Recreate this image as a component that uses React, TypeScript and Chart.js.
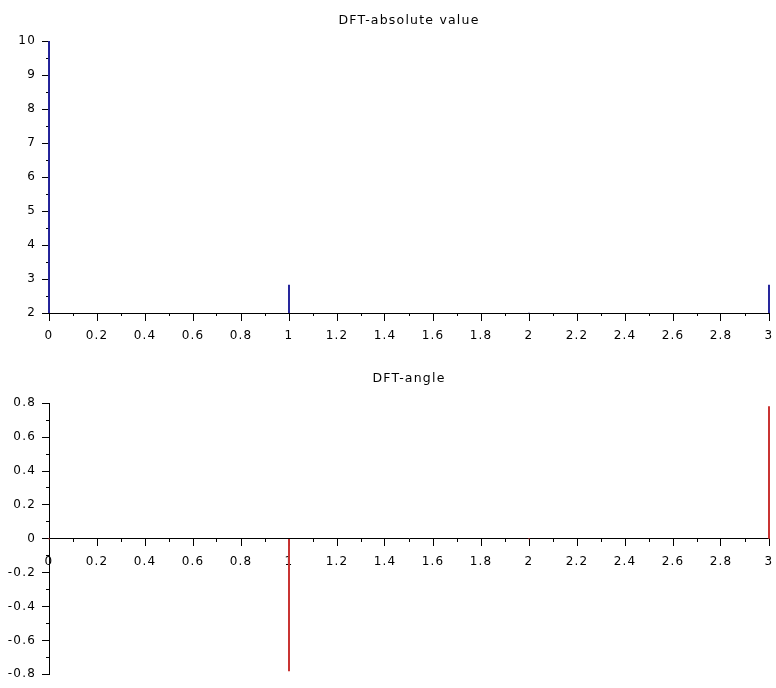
import React, { useEffect, useRef } from "react";
import { Chart, registerables } from "chart.js";

Chart.register(...registerables);

const bins = [0, 1, 2, 3];
const absValues = [10, 2.82, 2, 2.82];
const angleValues = [0, -0.78, 0, 0.78];

const absTitle = "DFT-absolute value";
const angleTitle = "DFT-angle";

const xMajorTicks = [0, 0.2, 0.4, 0.6, 0.8, 1, 1.2, 1.4, 1.6, 1.8, 2, 2.2, 2.4, 2.6, 2.8, 3];
const xMinorTicks = [0.1, 0.3, 0.5, 0.7, 0.9, 1.1, 1.3, 1.5, 1.7, 1.9, 2.1, 2.3, 2.5, 2.7, 2.9];
const absMajorTicks = [2, 3, 4, 5, 6, 7, 8, 9, 10];
const absMinorTicks = [2.5, 3.5, 4.5, 5.5, 6.5, 7.5, 8.5, 9.5];
const angleMajorTicks = [-0.8, -0.6, -0.4, -0.2, 0, 0.2, 0.4, 0.6, 0.8];
const angleMinorTicks = [-0.7, -0.5, -0.3, -0.1, 0.1, 0.3, 0.5, 0.7];

const FONT = "'DejaVu Sans', 'Liberation Sans', sans-serif";

const spacingPlugin = {
  id: "letterSpacing",
  beforeDraw(chart: any) {
    chart.ctx.letterSpacing = "1.2px";
  },
};

const fmt = (v: number) => String(Math.round(v * 10) / 10);

function makeConfig(opts: {
  title: string;
  values: number[];
  color: string;
  yMin: number;
  yMax: number;
  yMajor: number[];
  yMinor: number[];
  xAt: number;
  titlePad: { top: number; bottom: number };
  layoutPad: { left: number; right: number; top: number; bottom: number };
}): any {
  const tickFont = { family: FONT, size: 12 };
  const setTicks = (arr: number[]) => (scale: any) => {
    scale.ticks = arr.map((v) => ({ value: v }));
  };
  const noPad = (scale: any) => {
    scale.paddingLeft = 0;
    scale.paddingRight = 0;
    scale.paddingTop = 0;
    scale.paddingBottom = 0;
  };
  const grid = (len: number) => ({
    display: true,
    drawOnChartArea: false,
    drawTicks: true,
    tickLength: len,
    offset: false,
    color: "#000",
    tickColor: "#000",
    lineWidth: 1,
  });
  return {
    type: "bar",
    data: {
      datasets: [
        {
          data: bins.map((b, i) => ({ x: b, y: opts.values[i] })),
          backgroundColor: opts.color,
          borderWidth: 0,
          barThickness: 1.3,
          xAxisID: "x",
          yAxisID: "y",
          clip: { left: 3, right: 3, top: 0, bottom: 0 },
        },
      ],
    },
    options: {
      responsive: false,
      animation: false,
      devicePixelRatio: 1,
      layout: { padding: opts.layoutPad },
      plugins: {
        legend: { display: false },
        tooltip: { enabled: false },
        title: {
          display: true,
          text: opts.title,
          fullSize: false,
          color: "#000",
          font: { family: FONT, size: 12.5, weight: "normal" },
          padding: opts.titlePad,
        },
      },
      scales: {
        x: {
          type: "linear",
          min: 0,
          max: 3,
          offset: false,
          position: { y: opts.xAt },
          afterBuildTicks: setTicks(xMajorTicks),
          afterFit: noPad,
          ticks: { color: "#000", font: tickFont, padding: 9, maxRotation: 0, autoSkip: false, callback: (v: number) => fmt(v) },
          grid: grid(7),
          border: { display: true, color: "#000", width: 1 },
        },
        xm: {
          type: "linear",
          min: 0,
          max: 3,
          offset: false,
          position: { y: opts.xAt },
          afterBuildTicks: setTicks(xMinorTicks),
          afterFit: noPad,
          ticks: { display: false, autoSkip: false },
          grid: grid(3),
          border: { display: false },
        },
        y: {
          type: "linear",
          min: opts.yMin,
          max: opts.yMax,
          position: "left",
          afterBuildTicks: setTicks(opts.yMajor),
          afterFit: (scale: any) => {
            scale.width = 49;
            noPad(scale);
          },
          ticks: { color: "#000", font: tickFont, padding: 6, autoSkip: false, callback: (v: number) => fmt(v) },
          grid: grid(7),
          border: { display: true, color: "#000", width: 1 },
        },
        ym: {
          type: "linear",
          min: opts.yMin,
          max: opts.yMax,
          position: { x: 0 },
          afterBuildTicks: setTicks(opts.yMinor),
          afterFit: noPad,
          ticks: { display: false, autoSkip: false },
          grid: grid(3),
          border: { display: false },
        },
      },
    },
    plugins: [spacingPlugin],
  };
}

function StemChart(props: { config: any; top: number }) {
  const ref = useRef<HTMLCanvasElement | null>(null);
  useEffect(() => {
    if (!ref.current) return;
    const chart = new Chart(ref.current, props.config);
    return () => chart.destroy();
  }, []);
  return (
    <canvas
      ref={ref}
      width={776}
      height={344}
      style={{ position: "absolute", left: 0, top: props.top, width: 776, height: 344, display: "block" }}
    />
  );
}

export default function App() {
  const topConfig = makeConfig({
    title: absTitle,
    values: absValues,
    color: "#23239b",
    yMin: 2,
    yMax: 10,
    yMajor: absMajorTicks,
    yMinor: absMinorTicks,
    xAt: 2,
    titlePad: { top: 13, bottom: 13 },
    layoutPad: { left: 0, right: 7, top: 0, bottom: 31 },
  });
  const bottomConfig = makeConfig({
    title: angleTitle,
    values: angleValues,
    color: "#c8302f",
    yMin: -0.8,
    yMax: 0.8,
    yMajor: angleMajorTicks,
    yMinor: angleMinorTicks,
    xAt: 0,
    titlePad: { top: 27, bottom: 17.3 },
    layoutPad: { left: 0, right: 7, top: 0, bottom: 13.7 },
  });
  return (
    <div style={{ position: "fixed", left: 0, top: 0, width: 776, height: 688, background: "#fff" }}>
      <StemChart config={topConfig} top={0} />
      <StemChart config={bottomConfig} top={344} />
    </div>
  );
}
